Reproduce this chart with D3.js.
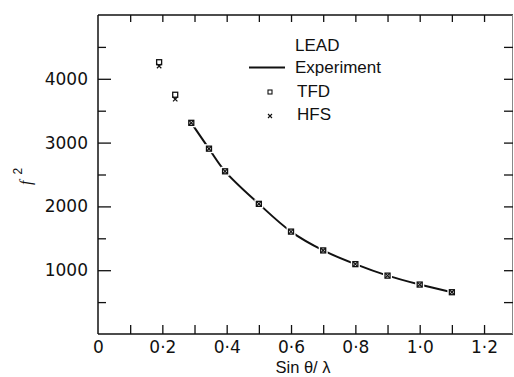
<!DOCTYPE html>
<html>
<head>
<meta charset="utf-8">
<script src="https://cdn.jsdelivr.net/npm/d3@7"></script>
<style>
  body { margin: 0; background: #fff; }
  svg { display: block; }
</style>
</head>
<body>
<svg id="chart" width="514" height="377"></svg>
<script>
// sin(theta)/lambda positions of the calculated points
const sinTheta = [0.19, 0.24, 0.29, 0.345, 0.395, 0.5, 0.6, 0.7, 0.8, 0.9, 1.0, 1.1];
// Thomas-Fermi-Dirac values
const tfdValues = [4260, 3750, 3310, 2905, 2550, 2040, 1605, 1310, 1095, 915, 775, 655];
// Hartree-Fock-Slater values
const hfsValues = [4200, 3680, 3310, 2905, 2550, 2040, 1605, 1310, 1095, 915, 775, 655];
// Experimental curve
const expSinTheta = [0.29, 0.345, 0.395, 0.5, 0.6, 0.7, 0.8, 0.9, 1.0, 1.1];
const expValues = [3310, 2905, 2550, 2040, 1605, 1310, 1095, 915, 775, 655];

// tick values
const yMajorTicks = [1000, 2000, 3000, 4000];
const yMinorTicks = [500, 1500, 2500, 3500, 4500];
const yAllTicks = [500, 1000, 1500, 2000, 2500, 3000, 3500, 4000, 4500];
const xTicks = [0.1, 0.2, 0.3, 0.4, 0.5, 0.6, 0.7, 0.8, 0.9, 1.0, 1.1, 1.2];
const xLabels = [0, 0.2, 0.4, 0.6, 0.8, 1.0, 1.2];

const legendItems = ["LEAD", "Experiment", "TFD", "HFS"];

const svg = d3.select("#chart");
const ink = "#111";

// scales
const x = d3.scaleLinear().domain([0, 1.29]).range([98, 513]);
const y = d3.scaleLinear().domain([0, 5000]).range([334, 15]);

const fmtX = d => d === 0 ? "0" : d3.format(".1f")(d).replace(".", "\u00b7");

// frame
svg.append("line").attr("x1", x(0)).attr("x2", x(1.29)).attr("y1", y(5000)).attr("y2", y(5000))
    .attr("stroke", ink).attr("stroke-width", 1.5);
svg.append("line").attr("x1", x(0)).attr("x2", x(1.29)).attr("y1", y(0)).attr("y2", y(0))
    .attr("stroke", ink).attr("stroke-width", 1.5);
svg.append("line").attr("x1", x(0)).attr("x2", x(0)).attr("y1", y(0)).attr("y2", y(5000))
    .attr("stroke", ink).attr("stroke-width", 1.5);
svg.append("line").attr("x1", x(1.29) - 0.5).attr("x2", x(1.29) - 0.5).attr("y1", y(0)).attr("y2", y(5000))
    .attr("stroke", "#888").attr("stroke-width", 1);

function cleanAxis(g) {
    g.select(".domain").remove();
    g.selectAll(".tick line").attr("stroke", ink).attr("stroke-width", 1.3);
}

// left axis: major ticks with labels
svg.append("g")
    .attr("transform", "translate(" + x(0) + ",0)")
    .call(d3.axisLeft(y).tickValues(yMajorTicks).tickSizeInner(-13).tickSizeOuter(0).tickPadding(10)
        .tickFormat(d3.format("d")))
    .call(cleanAxis)
    .call(g => g.selectAll("text")
        .attr("fill", ink)
        .style("font-family", "DejaVu Sans, sans-serif")
        .style("font-size", "17px"));

// left axis: minor ticks
svg.append("g")
    .attr("transform", "translate(" + x(0) + ",0)")
    .call(d3.axisLeft(y).tickValues(yMinorTicks).tickSizeInner(-8).tickSizeOuter(0).tickFormat(""))
    .call(cleanAxis);

// right axis ticks
svg.append("g")
    .attr("transform", "translate(" + x(1.29) + ",0)")
    .call(d3.axisRight(y).tickValues(yAllTicks).tickSizeInner(-9).tickSizeOuter(0).tickFormat(""))
    .call(cleanAxis);

// bottom axis ticks
svg.append("g")
    .attr("transform", "translate(0," + y(0) + ")")
    .call(d3.axisBottom(x).tickValues(xTicks).tickSizeInner(-9).tickSizeOuter(0).tickFormat(""))
    .call(cleanAxis);

// bottom axis labels
svg.append("g")
    .attr("transform", "translate(0," + y(0) + ")")
    .call(d3.axisBottom(x).tickValues(xLabels).tickSize(0).tickPadding(7).tickFormat(fmtX))
    .call(cleanAxis)
    .call(g => g.selectAll("text")
        .attr("fill", ink)
        .style("font-family", "DejaVu Sans, sans-serif")
        .style("font-size", "17px"));

// top axis ticks
svg.append("g")
    .attr("transform", "translate(0," + y(5000) + ")")
    .call(d3.axisTop(x).tickValues(xTicks).tickSizeInner(-7).tickSizeOuter(0).tickFormat(""))
    .call(cleanAxis);

// axis titles
svg.append("text")
    .attr("x", 303)
    .attr("y", 373)
    .attr("text-anchor", "middle")
    .attr("fill", ink)
    .style("font-family", "Liberation Sans, Arial, sans-serif")
    .style("font-size", "16.5px")
    .text("Sin \u03b8/ \u03bb");

const yTitle = svg.append("text")
    .attr("transform", "translate(31,185) rotate(-90)")
    .attr("fill", ink)
    .style("font-family", "Liberation Serif, serif")
    .style("font-size", "16px");
yTitle.append("tspan").style("font-style", "italic").text("f");
yTitle.append("tspan").attr("dx", 6).attr("dy", -9).style("font-size", "12px")
    .style("font-family", "Liberation Sans, sans-serif").text("2");

// experimental curve
const expData = expSinTheta.map((s, i) => ({s: s, v: expValues[i]}));
const line = d3.line()
    .x(d => x(d.s))
    .y(d => y(d.v))
    .curve(d3.curveCatmullRom);

svg.append("path")
    .datum(expData)
    .attr("d", line)
    .attr("fill", "none")
    .attr("stroke", ink)
    .attr("stroke-width", 2);

// points
const pts = sinTheta.map((s, i) => ({s: s, tfd: tfdValues[i], hfs: hfsValues[i]}));

// white gap around markers
svg.append("g").selectAll("rect")
    .data(pts)
    .join("rect")
    .attr("x", d => x(d.s) - 4.5)
    .attr("y", d => y(d.tfd) - 4.5)
    .attr("width", 9)
    .attr("height", 9)
    .attr("fill", "#fff");

// TFD squares
svg.append("g").selectAll("rect")
    .data(pts)
    .join("rect")
    .attr("x", d => x(d.s) - 2.5)
    .attr("y", d => y(d.tfd) - 2.5)
    .attr("width", 5)
    .attr("height", 5)
    .attr("fill", "none")
    .attr("stroke", ink)
    .attr("stroke-width", 1.3);

// HFS crosses
svg.append("g").selectAll("path")
    .data(pts)
    .join("path")
    .attr("d", d => {
        const cx = x(d.s), cy = y(d.hfs);
        return "M" + (cx - 2.2) + "," + (cy - 2.2) + "L" + (cx + 2.2) + "," + (cy + 2.2) +
               "M" + (cx + 2.2) + "," + (cy - 2.2) + "L" + (cx - 2.2) + "," + (cy + 2.2);
    })
    .attr("fill", "none")
    .attr("stroke", ink)
    .attr("stroke-width", 1.2);

// legend
const legend = svg.append("g").attr("transform", "translate(249,51)");
legend.selectAll("text")
    .data(legendItems)
    .join("text")
    .attr("x", (d, i) => i < 2 ? 46 : 48)
    .attr("y", (d, i) => [0, 22, 46, 69][i])
    .attr("fill", ink)
    .style("font-family", "Liberation Sans, Arial, sans-serif")
    .style("font-size", "17px")
    .text(d => d);

legend.append("line")
    .attr("x1", 0).attr("x2", 36).attr("y1", 16.5).attr("y2", 16.5)
    .attr("stroke", ink).attr("stroke-width", 2);
legend.append("rect")
    .attr("x", 19).attr("y", 39).attr("width", 4).attr("height", 4)
    .attr("fill", "none").attr("stroke", ink).attr("stroke-width", 1.1);
legend.append("path")
    .attr("d", "M19,63L23,67M23,63L19,67")
    .attr("stroke", ink).attr("stroke-width", 1.1);
</script>
</body>
</html>
